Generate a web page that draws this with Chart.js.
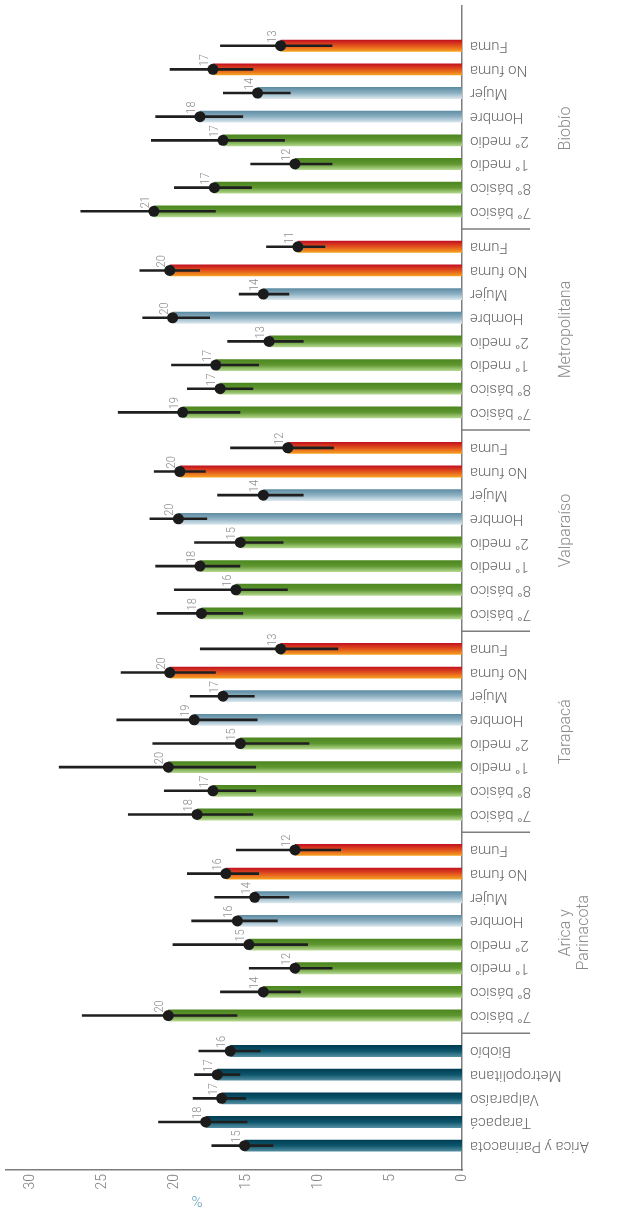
<!DOCTYPE html>
<html lang="es">
<head>
<meta charset="utf-8">
<title>Regiones</title>
<script src="https://cdn.jsdelivr.net/npm/chart.js@4.4.1/dist/chart.umd.min.js"></script>
<style>
  html, body { margin: 0; padding: 0; background: #fff; }
  #wrap { position: relative; width: 620px; height: 1212px; }
</style>
</head>
<body>
<div id="wrap"><canvas id="chart"></canvas></div>
<script>
const regions = ['Arica y Parinacota', 'Tarapacá', 'Valparaíso', 'Metropolitana', 'Biobío'];
const groupTitles = [['Arica y', 'Parinacota'], ['Tarapacá'], ['Valparaíso'], ['Metropolitana'], ['Biobío']];
const subgroups = ['7° básico', '8° básico', '1° medio', '2° medio', 'Hombre', 'Mujer', 'No fuma', 'Fuma'];
const subgroupKind = ['curso', 'curso', 'curso', 'curso', 'sexo', 'sexo', 'tabaco', 'tabaco'];
const valueTicks = [0, 5, 10, 15, 20, 25, 30];

// totales por región
const regionValue = [15.1, 17.8, 16.7, 17.0, 16.1];
const regionLow = [13.1, 14.9, 15.0, 15.4, 14.0];
const regionHigh = [17.4, 21.1, 18.7, 18.6, 18.3];

// por región: 7° básico, 8° básico, 1° medio, 2° medio, Hombre, Mujer, No fuma, Fuma
const aricaValue = [20.4, 13.8, 11.6, 14.8, 15.6, 14.4, 16.4, 11.6];
const aricaLow = [15.6, 11.2, 9.0, 10.7, 12.8, 12.0, 14.1, 8.4];
const aricaHigh = [26.4, 16.8, 14.8, 20.1, 18.8, 17.2, 19.1, 15.7];

const tarapacaValue = [18.4, 17.3, 20.4, 15.4, 18.6, 16.6, 20.3, 12.6];
const tarapacaLow = [14.5, 14.3, 14.3, 10.6, 14.2, 14.4, 17.1, 8.6];
const tarapacaHigh = [23.2, 20.7, 28.0, 21.5, 24.0, 18.9, 23.7, 18.2];

const valparaisoValue = [18.1, 15.7, 18.2, 15.4, 19.7, 13.8, 19.6, 12.1];
const valparaisoLow = [15.2, 12.1, 15.4, 12.4, 17.7, 11.0, 17.8, 8.9];
const valparaisoHigh = [21.2, 20.0, 21.3, 18.6, 21.7, 17.0, 21.4, 16.1];

const metropolitanaValue = [19.4, 16.8, 17.1, 13.4, 20.1, 13.8, 20.3, 11.4];
const metropolitanaLow = [15.4, 14.5, 14.1, 11.0, 17.5, 12.0, 18.2, 9.5];
const metropolitanaHigh = [23.9, 19.1, 20.2, 16.3, 22.2, 15.5, 22.4, 13.6];

const biobioValue = [21.4, 17.2, 11.6, 16.6, 18.2, 14.2, 17.3, 12.6];
const biobioLow = [17.1, 14.6, 9.0, 12.3, 15.2, 11.9, 14.5, 9.0];
const biobioHigh = [26.5, 20.0, 14.7, 21.6, 21.3, 16.6, 20.3, 16.8];

const groupValues = [aricaValue, tarapacaValue, valparaisoValue, metropolitanaValue, biobioValue];
const groupLows = [aricaLow, tarapacaLow, valparaisoLow, metropolitanaLow, biobioLow];
const groupHighs = [aricaHigh, tarapacaHigh, valparaisoHigh, metropolitanaHigh, biobioHigh];

const fills = {
  region: ['#003c52', '#0d566c', '#5790a3'],
  curso: ['#4b861f', '#5f962f', '#b7da93'],
  sexo: ['#5c8ba2', '#8db0c2', '#dde9ef'],
  tabaco: ['#c10f20', '#e2521d', '#f6a421']
};

// filas: totales abajo, luego cada región con un espacio entre grupos
const rows = [];
for (let i = 0; i < regions.length; i++) {
  rows.push({ label: regions[i], kind: 'region', pos: i, value: regionValue[i], low: regionLow[i], high: regionHigh[i] });
}
const groupStarts = [];
for (let g = 0; g < regions.length; g++) {
  const start = regions.length + 0.5 + g * (subgroups.length + 0.5);
  groupStarts.push(start);
  for (let k = 0; k < subgroups.length; k++) {
    rows.push({
      label: subgroups[k],
      kind: subgroupKind[k],
      pos: start + k,
      value: groupValues[g][k],
      low: groupLows[g][k],
      high: groupHighs[g][k]
    });
  }
}

function barFill(c) {
  const chart = c.chart;
  const yScale = chart.scales.y;
  const row = rows[c.dataIndex];
  if (!yScale || !row) return fills.curso[1];
  const py = yScale.getPixelForValue(row.pos);
  const half = Math.abs(yScale.getPixelForValue(1) - yScale.getPixelForValue(0)) * 0.25;
  const stops = fills[row.kind];
  if (!isFinite(py) || !isFinite(half) || half <= 0) return stops[1];
  const g = chart.ctx.createLinearGradient(0, py - half, 0, py + half);
  g.addColorStop(0, stops[0]);
  g.addColorStop(0.5, stops[1]);
  g.addColorStop(1, stops[2]);
  return g;
}

const decorations = {
  id: 'decorations',
  afterDatasetsDraw(chart) {
    const ctx = chart.ctx;
    const xs = chart.scales.x;
    const ys = chart.scales.y;
    const area = chart.chartArea;

    // valores junto a cada punto
    ctx.save();
    ctx.fillStyle = '#8d8d8d';
    ctx.font = '300 13px Roboto';
    ctx.textAlign = 'left';
    ctx.textBaseline = 'alphabetic';
    for (let i = 0; i < rows.length; i++) {
      const row = rows[i];
      ctx.save();
      ctx.translate(xs.getPixelForValue(row.value) - 5, ys.getPixelForValue(row.pos) - 3);
      ctx.rotate(-Math.PI / 2);
      ctx.scale(0.85, 1);
      ctx.fillText(String(Math.round(row.value)), 0, 0);
      ctx.restore();
    }
    ctx.restore();

    // etiquetas de categoría (invertidas)
    ctx.save();
    ctx.fillStyle = '#686868';
    ctx.font = '300 15px Roboto';
    ctx.textAlign = 'right';
    ctx.textBaseline = 'middle';
    for (let i = 0; i < rows.length; i++) {
      ctx.save();
      ctx.translate(area.right + 8, ys.getPixelForValue(rows[i].pos));
      ctx.rotate(Math.PI);
      ctx.fillText(rows[i].label, 0, 0);
      ctx.restore();
    }
    ctx.restore();

    // separadores y títulos de grupo
    ctx.save();
    ctx.strokeStyle = '#7d7d7d';
    ctx.lineWidth = 1.5;
    ctx.fillStyle = '#8a8a8a';
    ctx.font = '300 16px Roboto';
    ctx.textAlign = 'center';
    ctx.textBaseline = 'middle';
    for (let g = 0; g < groupStarts.length; g++) {
      const sy = ys.getPixelForValue(groupStarts[g] - 0.75);
      ctx.beginPath();
      ctx.moveTo(area.right, sy);
      ctx.lineTo(area.right + 68, sy);
      ctx.stroke();

      const cy = ys.getPixelForValue(groupStarts[g] + (subgroups.length - 1) / 2);
      const lines = groupTitles[g];
      for (let l = 0; l < lines.length; l++) {
        ctx.save();
        ctx.translate(area.right + 104 + l * 18, cy);
        ctx.rotate(-Math.PI / 2);
        ctx.fillText(lines[l], 0, 0);
        ctx.restore();
      }
    }
    ctx.restore();

    // unidad del eje
    ctx.save();
    ctx.fillStyle = '#5a9db6';
    ctx.font = '300 15px Roboto';
    ctx.textAlign = 'center';
    ctx.textBaseline = 'middle';
    ctx.fillText('%', xs.getPixelForValue(18.4), chart.height - 9);
    ctx.restore();
  }
};

Chart.defaults.font.family = 'Roboto';
Chart.defaults.font.weight = '300';

new Chart(document.getElementById('chart'), {
  type: 'bar',
  data: {
    datasets: [
      {
        type: 'scatter',
        data: rows.map(r => ({ x: r.value, y: r.pos })),
        pointRadius: 5.5,
        pointHoverRadius: 5.5,
        backgroundColor: '#1b1b1b',
        borderWidth: 0,
        order: 1
      },
      {
        type: 'bar',
        data: rows.map(r => ({ x: [r.low, r.high], y: r.pos })),
        backgroundColor: '#1f1f1f',
        borderWidth: 0,
        barPercentage: 0.11,
        categoryPercentage: 1,
        grouped: false,
        order: 2
      },
      {
        type: 'bar',
        data: rows.map(r => ({ x: r.value, y: r.pos })),
        backgroundColor: barFill,
        borderWidth: 0,
        barPercentage: 0.5,
        categoryPercentage: 1,
        grouped: false,
        order: 3
      }
    ]
  },
  options: {
    indexAxis: 'y',
    responsive: true,
    maintainAspectRatio: false,
    animation: false,
    layout: {
      padding: { left: 6, right: 158, top: 5, bottom: 0 }
    },
    plugins: {
      legend: { display: false },
      tooltip: { enabled: false }
    },
    scales: {
      x: {
        type: 'linear',
        position: 'bottom',
        reverse: true,
        min: 0,
        max: 31.67,
        afterFit: s => { s.height = 42; },
        afterBuildTicks: s => { s.ticks = valueTicks.map(v => ({ value: v })); },
        ticks: {
          minRotation: 90,
          maxRotation: 90,
          padding: 4,
          color: '#7e7e7e',
          font: { size: 14, weight: '300' }
        },
        grid: { display: false, drawTicks: false },
        border: { display: true, color: '#7d7d7d', width: 1.5 }
      },
      y: {
        type: 'linear',
        position: 'right',
        offset: false,
        min: -1.03,
        max: 48.2,
        afterFit: s => { s.width = 0; },
        ticks: { display: false, stepSize: 10, includeBounds: false },
        grid: { display: false, drawTicks: false, offset: false },
        border: { display: true, color: '#7d7d7d', width: 1.5 }
      }
    }
  },
  plugins: [decorations]
});
</script>
</body>
</html>
